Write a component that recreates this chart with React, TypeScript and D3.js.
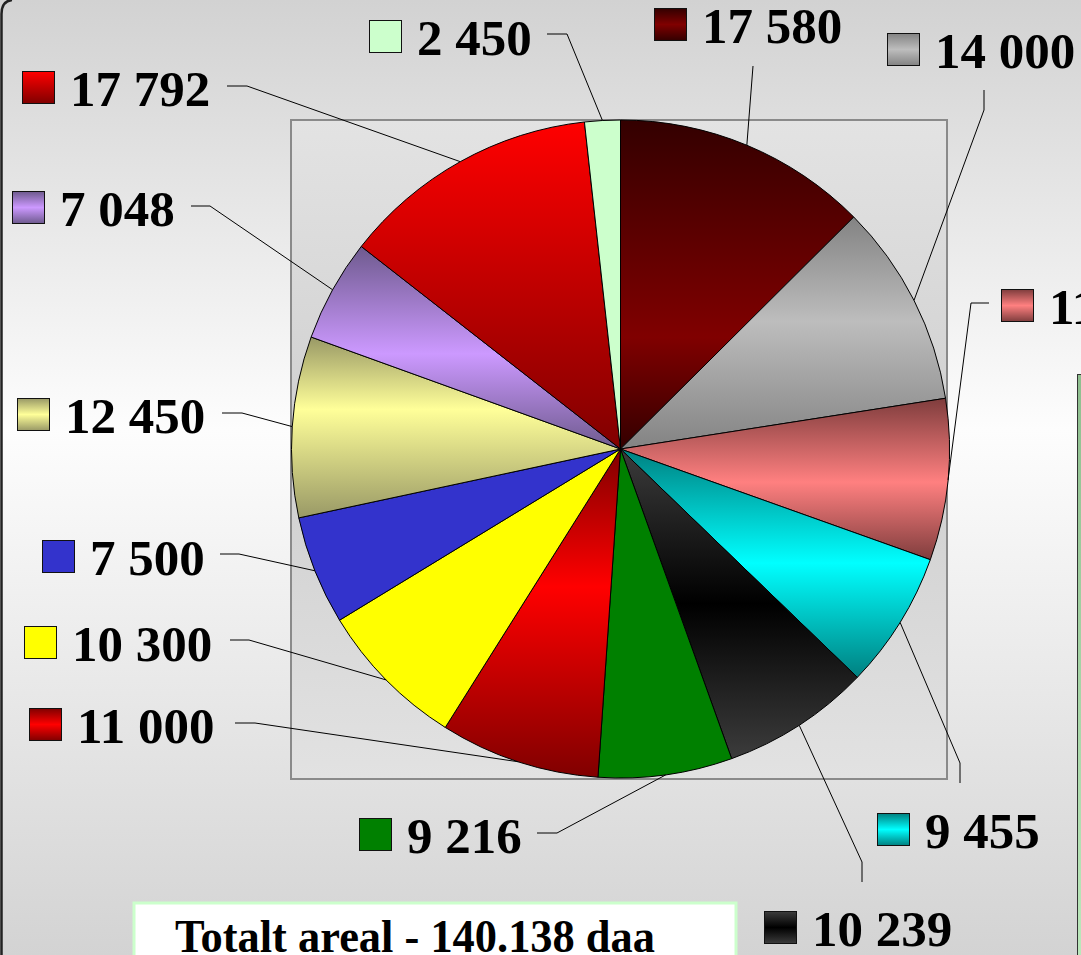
import React from "react";
import * as d3 from "d3";

// ---- data ----
const values: number[] = [17580, 14000, 11108, 9455, 10239, 9216, 11000, 10300, 7500, 12450, 7048, 17792, 2450];
const valueLabels: string[] = ["17 580", "14 000", "11 108", "9 455", "10 239", "9 216", "11 000", "10 300", "7 500", "12 450", "7 048", "17 792", "2 450"];
const totalText = "Totalt areal - 140.138 daa";

// ---- styles: [edge colour, base colour, peak offset] (edge==base => flat) ----
const sliceEdge: string[] = ["#330000", "#838383", "#7f3d3d", "#008080", "#3c3c3c", "#008000", "#800000", "#ffff00", "#3333cc", "#999966", "#6e5a8e", "#800000", "#ccffcc"];
const sliceBase: string[] = ["#800000", "#bdbdbd", "#ff8080", "#00ffff", "#000000", "#008000", "#ff0000", "#ffff00", "#3333cc", "#ffff99", "#cc99ff", "#ff0000", "#ccffcc"];
const slicePeak: number[] = [0.66, 0.45, 0.52, 0.5, 0.5, 0.5, 0.42, 0.5, 0.5, 0.4, 0.53, 0.0, 0.5];

// ---- layout: label swatch top-left and leader stub [x0,y0,x1,y1] ----
const swatchPos: [number, number][] = [
  [654, 8], [887, 33], [1001, 289], [877, 813], [764, 911], [359, 818], [29, 708],
  [24, 626], [42, 540], [17, 398], [12, 191], [22, 71], [369, 20],
];
const stubPos: [number, number, number, number][] = [
  [753, 66, 753, 66], [984, 90, 984, 110], [989, 303, 971, 303], [960, 783, 960, 763],
  [862, 882, 862, 862], [537, 833, 557, 833], [235, 723, 255, 723], [230, 640, 249, 640],
  [220, 554, 239, 554], [222, 413, 242, 413], [191, 206, 210, 206], [227, 86, 247, 86],
  [547, 34, 567, 34],
];

const W = 1081;
const H = 955;
const cx = 620.5;
const cy = 449;
const R = 329;

export default function App() {
  const pie = d3.pie<number>().sort(null).startAngle(0).endAngle(2 * Math.PI);
  const arcs = pie(values);
  const arc = d3.arc<d3.PieArcDatum<number>>().innerRadius(0).outerRadius(R);

  const stops = (i: number, peak: number) => {
    if (peak <= 0) {
      return [
        <stop key="a" offset="0" stopColor={sliceBase[i]} />,
        <stop key="b" offset="1" stopColor={sliceEdge[i]} />,
      ];
    }
    return [
      <stop key="a" offset="0" stopColor={sliceEdge[i]} />,
      <stop key="b" offset={peak} stopColor={sliceBase[i]} />,
      <stop key="c" offset="1" stopColor={sliceEdge[i]} />,
    ];
  };

  return (
    <svg
      width={W}
      height={H}
      style={{ position: "absolute", left: 0, top: 0, display: "block" }}
      fontFamily="'Liberation Serif', 'Times New Roman', serif"
    >
      <defs>
        <linearGradient id="bg" x1="0" y1="0" x2="0" y2="1">
          <stop offset="0" stopColor="#d2d2d2" />
          <stop offset="0.45" stopColor="#fdfdfd" />
          <stop offset="1" stopColor="#d3d3d3" />
        </linearGradient>
        <linearGradient id="plotbg" x1="0" y1="0" x2="0" y2="1">
          <stop offset="0" stopColor="#e3e3e3" />
          <stop offset="0.5" stopColor="#cfcfcf" />
          <stop offset="1" stopColor="#e2e2e2" />
        </linearGradient>
        <linearGradient id="greenbox" x1="0" y1="0" x2="0" y2="1">
          <stop offset="0" stopColor="#8fbf8f" />
          <stop offset="1" stopColor="#c4f0c4" />
        </linearGradient>
        {values.map((_, i) => (
          <linearGradient key={"g" + i} id={"sg" + i} x1="0" y1="0" x2="0" y2="1">
            {stops(i, slicePeak[i])}
          </linearGradient>
        ))}
        {values.map((_, i) => (
          <linearGradient key={"l" + i} id={"lg" + i} x1="0" y1="0" x2="0" y2="1">
            {stops(i, slicePeak[i] <= 0 ? 0 : 0.5)}
          </linearGradient>
        ))}
      </defs>

      {/* background */}
      <rect x={0} y={0} width={W} height={H} fill="url(#bg)" />
      <path d={`M1.5,${H} V14 Q1.5,1 12,0`} fill="none" stroke="#222" strokeWidth={2.5} />

      {/* right green box */}
      <rect x={1077.5} y={374.5} width={30} height={700} fill="url(#greenbox)" stroke="#333" strokeWidth={1} />

      {/* plot area */}
      <rect x={291} y={120} width={656} height={659} fill="url(#plotbg)" stroke="#8a8a8a" strokeWidth={2} />

      {/* slices */}
      <g transform={`translate(${cx},${cy})`}>
        {arcs.map((a, i) => (
          <path key={i} d={arc(a) || ""} fill={`url(#sg${i})`} stroke="#000" strokeWidth={1} strokeLinejoin="round" />
        ))}
      </g>

      {/* leader lines */}
      {arcs.map((a, i) => {
        const mid = (a.startAngle + a.endAngle) / 2;
        const ex = cx + R * Math.sin(mid);
        const ey = cy - R * Math.cos(mid);
        const [x0, y0, x1, y1] = stubPos[i];
        return (
          <polyline
            key={"ll" + i}
            points={`${x0},${y0} ${x1},${y1} ${ex},${ey}`}
            fill="none"
            stroke="#000"
            strokeWidth={1}
          />
        );
      })}

      {/* labels */}
      {values.map((_, i) => {
        const [sx, sy] = swatchPos[i];
        return (
          <g key={"lab" + i}>
            <rect x={sx + 0.5} y={sy + 0.5} width={32} height={32} fill={`url(#lg${i})`} stroke="#111" strokeWidth={1} />
            <text x={sx + 48} y={sy + 35} fontSize={51} fontWeight="bold" fill="#000">
              {valueLabels[i]}
            </text>
          </g>
        );
      })}

      {/* total box */}
      <rect x={134} y={903} width={602} height={80} fill="#ffffff" stroke="#ccffcc" strokeWidth={3} />
      <text x={175} y={952} fontSize={46} fontWeight="bold" fill="#000" textLength={480} lengthAdjust="spacingAndGlyphs">
        {totalText}
      </text>
    </svg>
  );
}
